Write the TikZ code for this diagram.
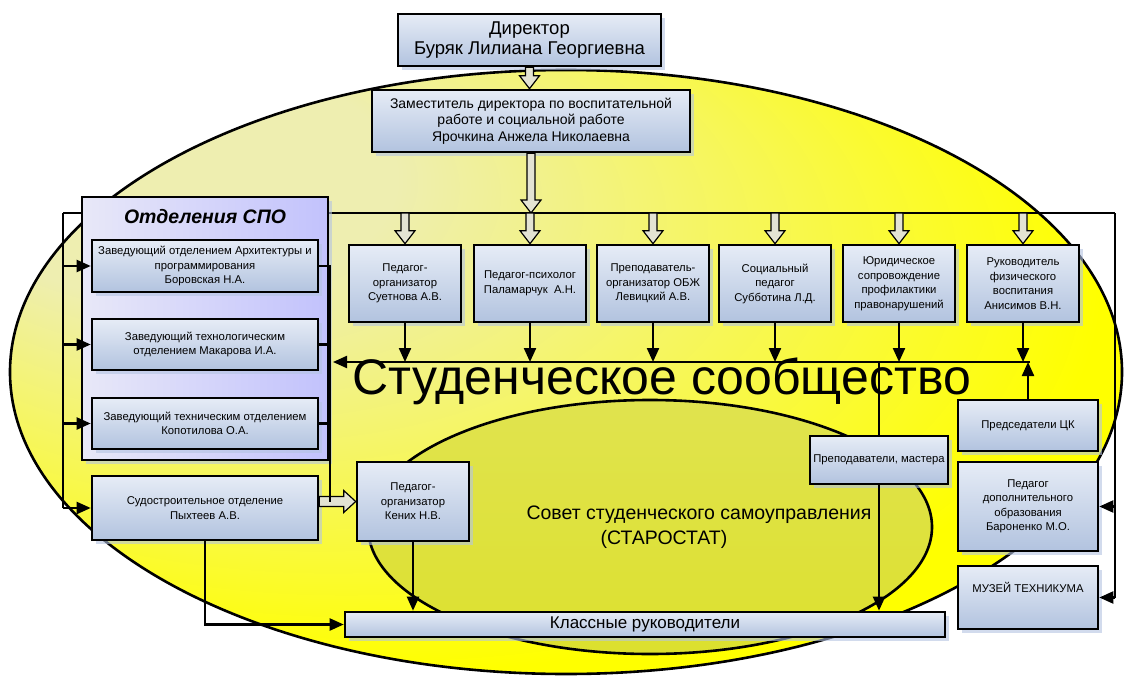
\documentclass[tikz,border=0pt]{standalone}
\usepackage{fontspec}
\setmainfont{Liberation Sans}
\usetikzlibrary{arrows.meta,calc,shadows}

\definecolor{ellPale}{HTML}{EEEEB0}
\definecolor{ellSun}{HTML}{FFFF00}
\definecolor{innerOl}{HTML}{DCE02E}
\definecolor{boxTop}{HTML}{E6ECF6}
\definecolor{boxBot}{HTML}{B2C3DF}
\definecolor{spoL}{HTML}{E8E8F8}
\definecolor{spoR}{HTML}{C2C2FC}
\definecolor{hollowC}{HTML}{E3E3D3}
\definecolor{shadowC}{HTML}{B4C4E2}

% pale glow in the upper left of the big oval
\pgfdeclareradialshading{ellglow}{\pgfpoint{-22bp}{20bp}}{color(0bp)=(ellPale); color(10bp)=(ellPale); color(32bp)=(ellSun); color(50bp)=(ellSun)}

\tikzset{
  orgbox/.style={draw, line width=2.6pt, top color=boxTop, bottom color=boxBot,
    align=center, inner sep=1pt, font=\fontsize{11.3}{14.5}\selectfont,
    drop shadow={shadow xshift=4pt, shadow yshift=-4pt, fill=shadowC, opacity=0.6}},
  deptbox/.style={orgbox, minimum width=226, minimum height=51},
  rowbox/.style={orgbox, minimum width=112, minimum height=77},
  sidebox/.style={orgbox, minimum width=140},
  wire/.style={line width=2.2pt},
  arr/.style={wire, -{Triangle[length=14pt,width=12pt]}},
  hollow/.style={fill=hollowC, draw=black, line width=1.2pt},
}

% wide light arrows
\newcommand{\hollowdown}[2]{%
  \filldraw[hollow] let \p1=(#1), \p2=(#2) in
    (\x1-4pt,\y1) -- (\x1-4pt,\y2+13pt) -- (\x1-10pt,\y2+13pt) -- (\x1,\y2)
    -- (\x1+10pt,\y2+13pt) -- (\x1+4pt,\y2+13pt) -- (\x1+4pt,\y1) -- cycle;}
\newcommand{\hollowright}[2]{%
  \filldraw[hollow] let \p1=(#1), \p2=(#2) in
    (\x1,\y1+5pt) -- (\x2-12pt,\y1+5pt) -- (\x2-12pt,\y1+11pt) -- (\x2,\y1)
    -- (\x2-12pt,\y1-11pt) -- (\x2-12pt,\y1-5pt) -- (\x1,\y1-5pt) -- cycle;}

\begin{document}
\begin{tikzpicture}[x=1pt,y=-1pt]
\useasboundingbox[fill=white] (0,0) rectangle (1126,679);
\shadedraw[line width=2.6pt, shading=ellglow] (566,372) ellipse [x radius=556, y radius=302];
\draw[line width=2.6pt, top color=innerOl!75!ellPale, bottom color=innerOl] (650,527) ellipse [x radius=282, y radius=127];

\node[font=\fontsize{50}{54}\selectfont] (stud) at (662,381) {Студенческое сообщество};
\node[font=\fontsize{19.5}{22}\selectfont] (sov1) at (699,515) {Совет студенческого самоуправления};
\node[font=\fontsize{19.5}{22}\selectfont] (sov2) at (664,539) {(СТАРОСТАТ)};

\coordinate (bl) at (63,213);
\coordinate (br) at (1115,213);
\coordinate (sbl) at (333,362);
\coordinate (sbr) at (1030,362);
\coordinate (rv) at (330,0);
\draw[wire] (bl) -- (br);

\node[orgbox, font=\fontsize{18.5}{20}\selectfont, minimum width=263, minimum height=52] (dir) at (529.5,40) {Директор\\Буряк Лилиана Георгиевна};
\node[orgbox, font=\fontsize{14}{16.5}\selectfont, minimum width=318, minimum height=62] (dep) at (531,121) {Заместитель директора по воспитательной\\работе и социальной работе\\Ярочкина Анжела Николаевна};

\node[draw, line width=2.6pt, left color=spoL, right color=spoR, minimum width=246, minimum height=263,
  drop shadow={shadow xshift=4pt, shadow yshift=-4pt, fill=shadowC, opacity=0.6}] (spo) at (205,328.5) {};
\node[font=\bfseries\itshape\fontsize{19.5}{22}\selectfont] (spot) at (205,217) {Отделения СПО};
\node[deptbox, minimum height=52] (d1) at (205,266) {Заведующий отделением Архитектуры и\\программирования\\Боровская Н.А.};
\node[deptbox] (d2) at (205,344.5) {Заведующий технологическим\\отделением Макарова И.А.};
\node[deptbox] (d3) at (205,423.5) {Заведующий техническим отделением\\Копотилова О.А.};
\node[deptbox, minimum height=64] (d4) at (205,508) {Судостроительное отделение\\Пыхтеев А.В.};

\foreach \n/\x/\t in {r1/405/{Педагог-\\организатор\\Суетнова А.В.},
    r2/530/{Педагог-психолог\\Паламарчук\ \ А.Н.},
    r3/653/{Преподаватель-\\организатор ОБЖ\\Левицкий А.В.},
    r4/775/{Социальный\\педагог\\Субботина Л.Д.},
    r5/899/{Юридическое\\сопровождение\\профилактики\\правонарушений},
    r6/1023/{Руководитель\\физического\\воспитания\\Анисимов В.Н.}}
  \node[rowbox] (\n) at (\x,283.5) {\t};

\node[sidebox, minimum height=51] (ck) at (1028,425.5) {Председатели ЦК};
\node[sidebox, minimum height=89] (bar) at (1028,506.5) {Педагог\\дополнительного\\образования\\Бароненко М.О.};
\node[sidebox, minimum height=63] (mus) at (1028,597.5) {МУЗЕЙ ТЕХНИКУМА\\[6pt]\mbox{}};
\node[orgbox, minimum width=138, minimum height=48] (prep) at (879,460) {Преподаватели, мастера};
\node[orgbox, minimum width=112, minimum height=79] (ken) at (413,501.5) {Педагог-\\организатор\\Кених Н.В.};
\node[orgbox, font=\fontsize{17}{19}\selectfont, minimum width=600, minimum height=25] (kl) at (645,624.5) {Классные руководители};

% hollow arrows
\hollowdown{dir.south}{dep.north}
\hollowdown{dep.south}{dep.south |- br}
\hollowdown{r1.north |- br}{r1.north}
\hollowdown{r2.north |- br}{r2.north}
\hollowdown{r3.north |- br}{r3.north}
\hollowdown{r4.north |- br}{r4.north}
\hollowdown{r5.north |- br}{r5.north}
\hollowdown{r6.north |- br}{r6.north}
\hollowright{d4.east |- ken.west}{ken.west}

% black connectors
\draw[wire] (bl |- d4.west) -- (bl);
\draw[wire] (br) -- (br |- mus.east);
\foreach \n in {d1,d2,d3,d4}
  \draw[arr] (bl |- \n.west) -- (\n.west);
\foreach \n in {bar,mus}
  \draw[arr] (br |- \n.east) -- (\n.east);
\draw[wire] (d1.east) -| (rv |- ken.west);
\draw[wire] (d2.east) -- (rv |- d2.east);
\draw[wire] (d3.east) -- (rv |- d3.east);
\draw[arr] (sbr) -- (sbl);
\foreach \n in {r1,r2,r3,r4,r5,r6}
  \draw[arr] (\n.south) -- (\n.south |- sbl);
\draw[arr] (ck.north) -- (ck.north |- sbl);
\draw[wire] (prep.north) -- (prep.north |- sbl);
\draw[arr] (prep.south) -- (prep.south |- kl.north);
\draw[arr] (ken.south) -- (ken.south |- kl.north);
\draw[arr] (d4.south) |- (kl.west);
\end{tikzpicture}
\end{document}
